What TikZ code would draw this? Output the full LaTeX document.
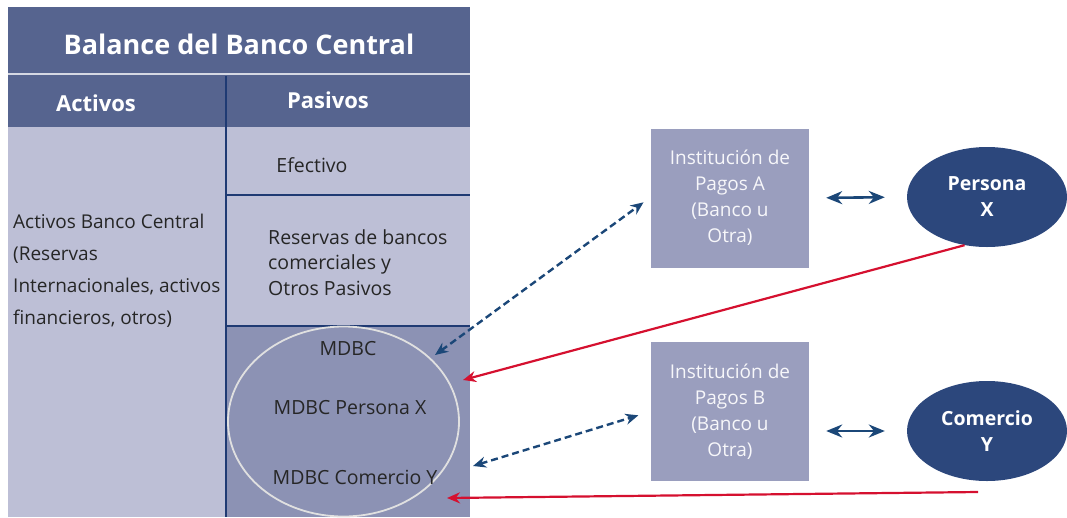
\documentclass[tikz,border=0pt]{standalone}
\usepackage{fontspec}
\setmainfont{Open Sans}
\usetikzlibrary{arrows.meta,shapes,calc}
\definecolor{band}{HTML}{56648F}
\definecolor{body}{HTML}{BDBFD6}
\definecolor{mdbc}{HTML}{8C92B4}
\definecolor{inst}{HTML}{9A9EBE}
\definecolor{agent}{HTML}{2C477C}
\definecolor{navy}{HTML}{1B4778}
\definecolor{rule}{HTML}{1F3A73}
\definecolor{flow}{HTML}{D5102F}
\tikzset{
  txt/.style={font=\fontsize{19.5}{25.5}\selectfont, text=black!85, align=left, inner sep=0pt},
  head/.style={font=\bfseries\fontsize{22}{24}\selectfont, text=white},
  instbox/.style={fill=inst, minimum width=158pt, minimum height=139pt, align=center,
    font=\fontsize{19}{26}\selectfont, text=white!92!inst},
  agentbox/.style={ellipse, fill=agent, minimum width=160pt, minimum height=100pt, align=center,
    font=\bfseries\fontsize{19.5}{26}\selectfont, text=white},
  dashflow/.style={{Stealth[length=13pt,width=11pt]}-{Stealth[length=13pt,width=11pt]}, navy, line width=2.4pt, dash pattern=on 7pt off 4pt},
  swap/.style={{Stealth[length=16pt,width=13pt]}-{Stealth[length=16pt,width=13pt]}, navy, line width=2.6pt},
  payflow/.style={-{Stealth[length=13pt,width=11pt]}, flow, line width=2.2pt}
}
\begin{document}
\begin{tikzpicture}[x=1pt,y=-1pt]
\useasboundingbox (0,0) rectangle (1067,517);
\fill [band] (8,7) rectangle (470,127); % title and heads
\draw [white!75!band, line width=1.5pt] (8,74) -- (470,74);
\fill [body] (8,127) rectangle (470,517); % balance
\fill [mdbc] (226,326) rectangle (470,517); % MDBC cell
\draw [rule, line width=1.3pt] (226,76) -- (226,517);
\draw [rule, line width=1.3pt] (226,195) -- (470,195);
\draw [rule, line width=1.3pt] (226,326) -- (470,326);
\draw [white!88!black, line width=1.8pt] (343.5,421.5) ellipse [x radius=115.5, y radius=95];
\node [head, font=\bfseries\fontsize{27}{30}\selectfont] (title) at (239,44) {Balance del Banco Central};
\node [head] (activos) at (96,103) {Activos};
\node [head] (pasivos) at (328,100) {Pasivos};
\node [txt, anchor=base west, font=\fontsize{19}{32}\selectfont] (assets) at (13,324) {Activos Banco Central\\(Reservas\\Internacionales, activos\\financieros, otros)};
\node [txt] (efectivo) at (312,165) {Efectivo};
\node [txt, anchor=base west] (reservas) at (268,295) {Reservas de bancos\\comerciales y\\Otros Pasivos};
\node [txt] (mdbctop) at (348,349) {MDBC};
\node [txt] (mdbcx) at (350,408) {MDBC Persona X};
\node [txt] (mdbcy) at (355,477) {MDBC Comercio Y};
\node [instbox] (instA) at (730,198) {Institución de\\Pagos A\\(Banco u\\Otra)};
\node [instbox] (instB) at (730,411.5) {Institución de\\Pagos B\\(Banco u\\Otra)};
\node [agentbox] (persona) at (987,197) {Persona\\X};
\node [agentbox] (comercio) at (987,431) {Comercio\\Y};
\coordinate (inA) at (435,355);
\coordinate (inB) at (473,466);
\coordinate (payX) at (463,380);
\coordinate (payY) at (447,498);
\coordinate (fromY) at (978,492);
\draw [dashflow, shorten >=9pt] (inA) -- (instA.west |- 0,197);
\draw [dashflow, shorten >=13pt] (inB) -- (instB.west);
\draw [swap, shorten <=17pt, shorten >=22pt] (instA.east) -- (persona.west); % A - X
\draw [swap, shorten <=17pt, shorten >=22pt] (instB.east |- comercio.west) -- (comercio.west); % B - Y
\draw [payflow] (persona.245) -- (payX);
\draw [payflow] (fromY) -- (payY);
\end{tikzpicture}
\end{document}
